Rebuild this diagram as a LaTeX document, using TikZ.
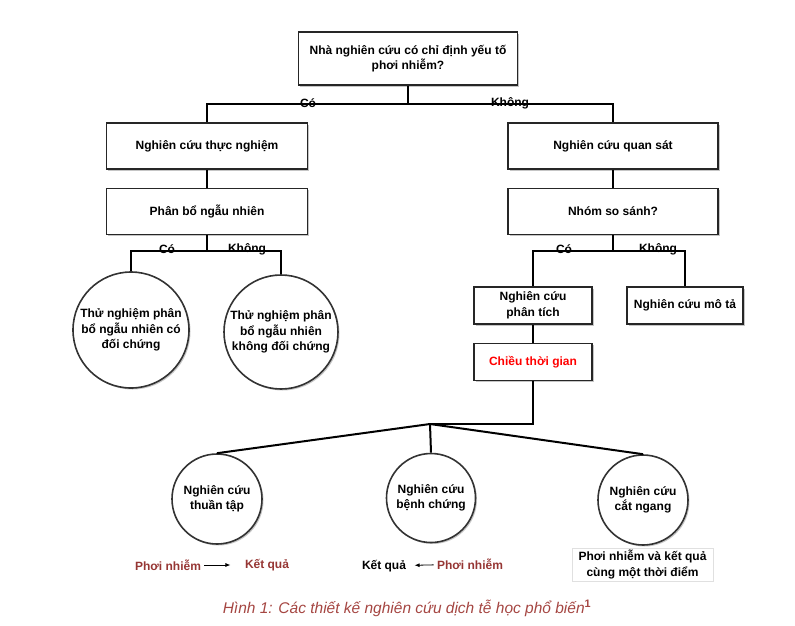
\documentclass[tikz,border=0pt]{standalone}
\usepackage{fontspec}
\setmainfont{Liberation Sans}
\usepackage{xcolor}
\usepackage{tikz}
\usetikzlibrary{arrows.meta,positioning,shadows}

\definecolor{darkred}{RGB}{150,54,52}
\definecolor{capred}{RGB}{165,70,66}

\begin{document}
\begin{tikzpicture}[
      x=1pt, y=-1pt,
      node distance=18pt and 20pt,
      every node/.style={font=\fontsize{12}{15.5}\selectfont\bfseries},
      box/.style={
        draw=black!85, line width=1.6pt, align=center, fill=white,
        minimum width=201pt, minimum height=46pt, inner sep=2pt,
        drop shadow={shadow xshift=1.5pt, shadow yshift=-1.5pt, fill=black!45, opacity=.5}
      },
      smallbox/.style={box, minimum width=118pt, minimum height=37pt},
      bubble/.style={
        draw=black!80, line width=1.6pt, circle, align=center,
        fill=white, inner sep=0pt,
        drop shadow={shadow xshift=1.5pt, shadow yshift=-1.5pt, fill=black!45, opacity=.5}
      },
      conn/.style={line width=2pt},
      lbl/.style={inner sep=0pt},
      arrow/.style={-{Latex[length=5pt,width=4pt]}, line width=.8pt}
    ]
    \useasboundingbox (0,0) rectangle (795,625);

    % top question
    \node[box, minimum width=219pt, minimum height=53pt] (root) at (408,58.5)
      {Nhà nghiên cứu có chỉ định yếu tố\\phơi nhiễm?};

    % left branch
    \node[box] (expt) at (207,146) {Nghiên cứu thực nghiệm};
    \node[box, below=of expt] (rand) {Phân bổ ngẫu nhiên};
    \node[bubble, minimum size=116pt] (rct) at (131,330)
      {Thử nghiệm phân\\bổ ngẫu nhiên có\\đối chứng};
    \node[bubble, minimum size=114pt] (nrct) at (281,332)
      {Thử nghiệm phân\\bổ ngẫu nhiên\\không đối chứng};

    % right branch
    \node[box, minimum width=210pt] (obs) at (613,146) {Nghiên cứu quan sát};
    \node[box, minimum width=210pt, below=of obs] (cmp) {Nhóm so sánh?};
    \node[smallbox] (anal) at (533,305.5) {Nghiên cứu\\phân tích};
    \node[smallbox, minimum width=116pt] (desc) at (685,305.5) {Nghiên cứu mô tả};
    \node[smallbox, below=of anal, text=red] (time) {Chiều thời gian};

    % analytic designs
    \node[bubble, minimum size=90pt] (cohort) at (217,499) {Nghiên cứu\\thuần tập};
    \node[bubble, minimum size=89pt] (casectl) at (431,498) {Nghiên cứu\\bệnh chứng};
    \node[bubble, minimum size=90pt] (cross) at (643,500) {Nghiên cứu\\cắt ngang};

    % connectors
    \coordinate (rootfork) at (408,104);
    \coordinate (randfork) at (207,251);
    \coordinate (cmpfork) at (613,251);
    \coordinate (timefork) at (430,424);

    \draw[conn] (root.south) -- (rootfork);
    \draw[conn] (expt.north) |- (rootfork) -| (obs.north);
    \draw[conn] (expt) -- (rand);
    \draw[conn] (obs) -- (cmp);

    \draw[conn] (rand.south) -- (randfork);
    \draw[conn] (rct.north) |- (randfork) -| (nrct.north);

    \draw[conn] (cmp.south) -- (cmpfork);
    \draw[conn] (anal.north) |- (cmpfork) -| (desc.north);
    \draw[conn] (anal) -- (time);

    \draw[conn] (time.south) |- (timefork);
    \draw[conn] (timefork) -- (cohort.north);
    \draw[conn] (timefork) -- (casectl.north);
    \draw[conn] (timefork) -- (cross.north);

    % yes / no labels
    \node[lbl] (yes1) at (308,103) {Có};
    \node[lbl] (no1) at (510,103) {Không};
    \node[lbl] (yes2) at (167,249) {Có};
    \node[lbl] (no2) at (247,249) {Không};
    \node[lbl] (yes3) at (564,249) {Có};
    \node[lbl] (no3) at (658,249) {Không};

    % time direction under each design
    \node[text=darkred] (expo1) at (168,565) {Phơi nhiễm};
    \node[text=darkred] (out1) at (267,565) {Kết quả};
    \draw[arrow, shorten >=11pt] (expo1) -- (out1);

    \node (out2) at (384,566) {Kết quả};
    \node[text=darkred] (expo2) at (470,564) {Phơi nhiễm};
    \draw[arrow, shorten >=5pt] (expo2) -- (out2);

    \node[draw=black!12, line width=.8pt, align=center, inner sep=1pt,
      minimum width=141pt, minimum height=33pt] (both) at (642.5,564.5)
      {Phơi nhiễm và kết quả\\cùng một thời điểm};

    % caption
    \node[font=\fontsize{15.5}{17}\selectfont\mdseries\itshape, text=capred] (caption) at (407,608)
      {Hình 1: Các thiết kế nghiên cứu dịch tễ học phổ biến\textsuperscript{\bfseries\upshape 1}};
  \end{tikzpicture}
\end{document}
